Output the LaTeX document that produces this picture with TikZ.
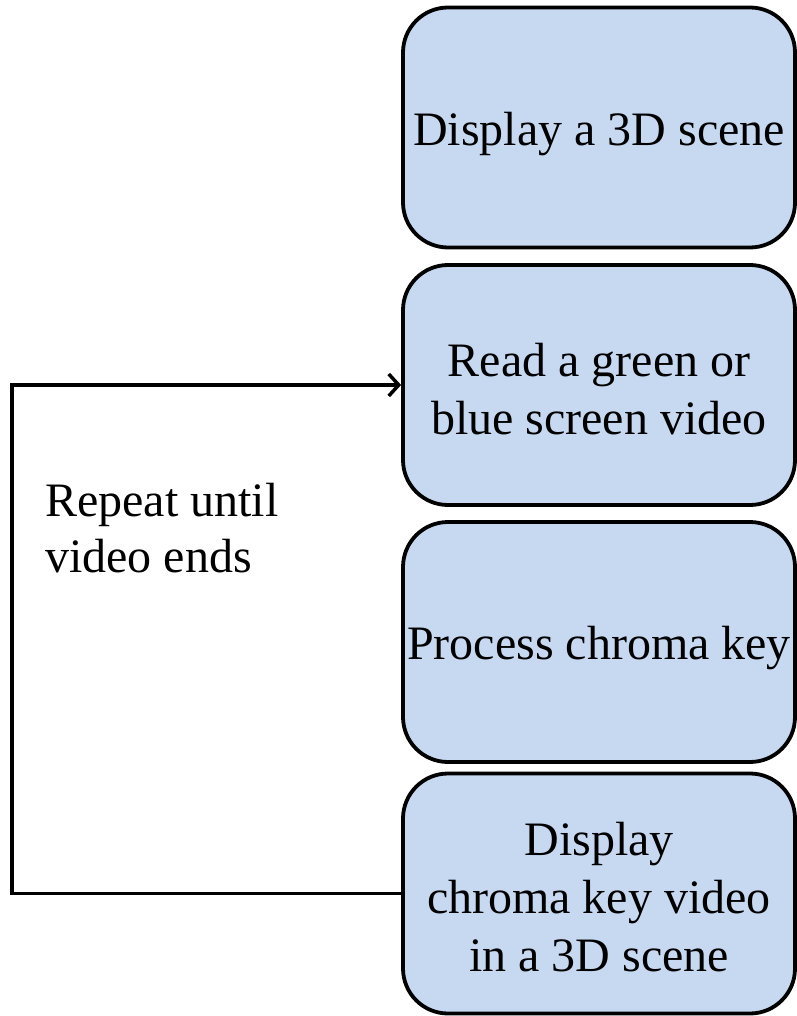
\documentclass[tikz,border=0pt]{standalone}
\usepackage{fontspec}
\setmainfont{Liberation Serif}
\usetikzlibrary{arrows.meta}
\definecolor{boxfill}{HTML}{C6D9F1}
\begin{document}
\begin{tikzpicture}[x=1pt,y=-1pt,
  stepbox/.style={draw=black,fill=boxfill,line width=3.8pt,rounded corners=45pt,
    minimum width=392pt,minimum height=240pt,inner sep=0pt},
  steptext/.style={align=center,inner sep=0pt,font=\fontsize{48}{58}\selectfont},
  conn/.style={line width=3.5pt,line join=miter}]
\useasboundingbox (0,0) rectangle (796,1016);
\node[stepbox] (b1) at (599,127.5) {};
\node[stepbox] (b2) at (599,385) {};
\node[stepbox] (b3) at (599,642) {};
\node[stepbox] (b4) at (599,893.5) {};
\node[steptext] (t1) at ([yshift=-7pt]b1.center) {Display a 3D scene};
\node[steptext] (t2) at ([yshift=-4pt]b2.center) {Read a green or\\blue screen video};
\node[steptext] (t3) at ([yshift=-6pt]b3.center) {Process chroma key};
\node[steptext] (t4) at ([yshift=-4pt]b4.center) {Display\\chroma key video\\in a 3D scene};
\node[anchor=west,align=left,inner sep=0pt,font=\fontsize{48}{56}\selectfont] (lbl) at (45,528) {Repeat until\\video ends};
\coordinate (c) at (12,385);
\draw[conn,-{Straight Barb[length=10pt,width=22pt,line width=3.5pt]}] (b4.west) -| (c) -- (b2.west);
\end{tikzpicture}
\end{document}
